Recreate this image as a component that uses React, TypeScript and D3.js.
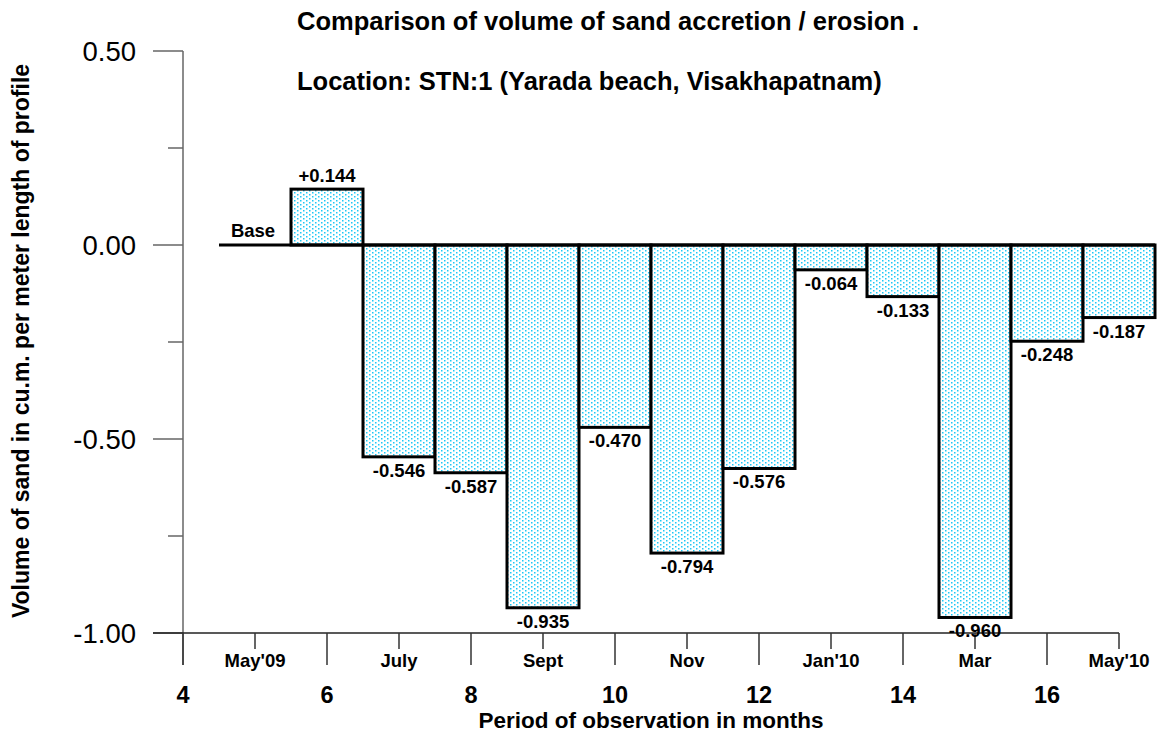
import React, { useEffect, useRef } from "react";
import * as d3 from "d3";

// months since start of survey; 5 = May'09 (base survey)
const baseMonth = 5;
const months = [6, 7, 8, 9, 10, 11, 12, 13, 14, 15, 16, 17];
const volumes = [0.144, -0.546, -0.587, -0.935, -0.47, -0.794, -0.576, -0.064, -0.133, -0.96, -0.248, -0.187];

const majorMonthTicks = [4, 6, 8, 10, 12, 14, 16];
const minorMonthTicks = [5, 7, 9, 11, 13, 15, 17];
const monthNames = ["May'09", "July", "Sept", "Nov", "Jan'10", "Mar", "May'10"];

const yMajorTicks = [0.5, 0, -0.5, -1];
const yMinorTicks = [0.25, -0.25, -0.75];

const titleLines = [
  "Comparison of volume of sand accretion / erosion .",
  "Location: STN:1 (Yarada beach, Visakhapatnam)",
];
const xTitle = "Period of observation in months";
const yTitle = "Volume of sand in cu.m. per meter length of profile";

const FONT = "'Liberation Sans', Arial, sans-serif";

function App() {
  const ref = useRef<SVGSVGElement>(null);
  const width = 1160;
  const height = 736;

  useEffect(() => {
    const svg = d3.select(ref.current);
    svg.selectAll("*").remove();

    const x = d3.scaleLinear().domain([4, 17]).range([183, 1119]);
    const y = d3.scaleLinear().domain([-1, 0.5]).range([633, 51]);

    // dotted cyan fill
    const pat = svg
      .append("defs")
      .append("pattern")
      .attr("id", "dots")
      .attr("patternUnits", "userSpaceOnUse")
      .attr("width", 6)
      .attr("height", 4);
    pat.append("rect").attr("width", 6).attr("height", 4).attr("fill", "#fff");
    pat.append("rect").attr("x", 0).attr("y", 0).attr("width", 1.5).attr("height", 1.5).attr("fill", "#1ec8f5");
    pat.append("rect").attr("x", 3).attr("y", 2).attr("width", 1.5).attr("height", 1.5).attr("fill", "#1ec8f5");

    const label = (
      str: string,
      tx: number,
      ty: number,
      size: number,
      opts: { bold?: boolean; anchor?: string; rotate?: number } = {}
    ) => {
      svg
        .append("text")
        .attr("transform", `translate(${tx},${ty})${opts.rotate ? ` rotate(${opts.rotate})` : ""}`)
        .attr("text-anchor", opts.anchor ?? "middle")
        .attr("font-family", FONT)
        .attr("font-size", size)
        .attr("font-weight", opts.bold === false ? "normal" : "bold")
        .attr("fill", "#000")
        .text(str);
    };

    // y axis
    svg.append("line")
      .attr("x1", x(4)).attr("x2", x(4))
      .attr("y1", y(0.5)).attr("y2", 665)
      .attr("stroke", "#666").attr("stroke-width", 1.5);
    svg.selectAll(".ymaj").data(yMajorTicks).join("line")
      .attr("x1", x(4) - 30).attr("x2", x(4))
      .attr("y1", (d) => y(d)).attr("y2", (d) => y(d))
      .attr("stroke", "#666").attr("stroke-width", 1.5);
    svg.selectAll(".ymin").data(yMinorTicks).join("line")
      .attr("x1", x(4) - 15).attr("x2", x(4))
      .attr("y1", (d) => y(d)).attr("y2", (d) => y(d))
      .attr("stroke", "#666").attr("stroke-width", 1.5);
    yMajorTicks.forEach((d) => label(d.toFixed(2), 136, y(d) + 10, 27.5, { bold: false, anchor: "end" }));

    // x axis
    svg.append("line")
      .attr("x1", x(4) - 30).attr("x2", x(17))
      .attr("y1", y(-1)).attr("y2", y(-1))
      .attr("stroke", "#222").attr("stroke-width", 1.5);
    svg.selectAll(".xmaj").data(majorMonthTicks).join("line")
      .attr("x1", (d) => x(d)).attr("x2", (d) => x(d))
      .attr("y1", y(-1)).attr("y2", y(-1) + 32)
      .attr("stroke", "#333").attr("stroke-width", 1.5);
    svg.selectAll(".xmin").data(minorMonthTicks).join("line")
      .attr("x1", (d) => x(d)).attr("x2", (d) => x(d))
      .attr("y1", y(-1)).attr("y2", y(-1) + 16)
      .attr("stroke", "#333").attr("stroke-width", 1.5);
    majorMonthTicks.forEach((d) => label(String(d), x(d), 703, 23.5));
    minorMonthTicks.forEach((d, i) => label(monthNames[i], x(d), 667, 18.5));

    // bars
    svg.selectAll(".bar").data(months).join("rect")
      .attr("x", (d) => x(d - 0.5))
      .attr("width", x(1) - x(0))
      .attr("y", (d, i) => y(Math.max(0, volumes[i])))
      .attr("height", (d, i) => Math.abs(y(volumes[i]) - y(0)))
      .attr("fill", "url(#dots)")
      .attr("stroke", "#000")
      .attr("stroke-width", 3);

    // zero / base line
    svg.append("line")
      .attr("x1", x(baseMonth - 0.5)).attr("x2", x(17.5))
      .attr("y1", y(0)).attr("y2", y(0))
      .attr("stroke", "#000").attr("stroke-width", 3);
    label("Base", x(baseMonth) - 2, y(0) - 8, 18.5);

    months.forEach((m, i) => {
      const v = volumes[i];
      const txt = (v > 0 ? "+" : "") + v.toFixed(3);
      label(txt, x(m), v > 0 ? y(v) - 7 : y(v) + 20, 18.5);
    });

    // titles
    label(titleLines[0], 297, 30, 25.5, { anchor: "start" });
    label(titleLines[1], 297, 90, 25.5, { anchor: "start" });
    label(xTitle, 651, 728, 22.5);
    label(yTitle, 29, 341, 23, { rotate: -90 });
  }, []);

  return (
    <svg
      ref={ref}
      width={width}
      height={height}
      style={{ position: "absolute", left: 0, top: 0, background: "#fff" }}
    ></svg>
  );
}

export default App;
